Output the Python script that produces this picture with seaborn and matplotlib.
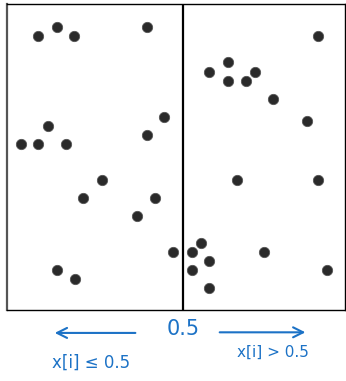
import matplotlib
matplotlib.use("Agg")
import matplotlib.pyplot as plt
import seaborn as sns
import pandas as pd

# point coordinates (x in [-0.02, 0.98], y in [0, 1])
x_vals = [0.072, 0.128, 0.178, 0.394, 0.101, 0.021, 0.072, 0.155, 0.394, 0.445,
          0.261, 0.205, 0.418, 0.365, 0.471, 0.128, 0.181,
          0.900, 0.578, 0.634, 0.634, 0.687, 0.714, 0.767, 0.868,
          0.660, 0.900, 0.554, 0.527, 0.578, 0.527, 0.578, 0.740, 0.927]
y_vals = [0.895, 0.925, 0.895, 0.925, 0.601, 0.542, 0.542, 0.542, 0.572, 0.631,
          0.425, 0.366, 0.366, 0.307, 0.190, 0.131, 0.101,
          0.895, 0.778, 0.810, 0.748, 0.748, 0.778, 0.690, 0.618,
          0.425, 0.425, 0.219, 0.190, 0.160, 0.131, 0.072, 0.190, 0.131]
split = 0.5
split_label = "0.5"
left_label = "x[i] ≤ 0.5"
right_label = "x[i] > 0.5"

df = pd.DataFrame({"x": x_vals, "y": y_vals})

sns.set_style("white")
fig = plt.figure(figsize=(3.46, 3.81), dpi=100)
ax = fig.add_axes([0.0202, 0.1864, 0.977, 0.8031])

sns.scatterplot(data=df, x="x", y="y", s=55, color="#2a2a2a",
                edgecolor="#555555", linewidth=0.6, ax=ax)
ax.axvline(split, color="black", lw=1.6)

ax.set_xlim(-0.02, 0.98)
ax.set_ylim(0, 1)
ax.set_xticks([])
ax.set_yticks([])
ax.set_xlabel("")
ax.set_ylabel("")
for side in ["top", "bottom", "right"]:
    ax.spines[side].set_color("black")
    ax.spines[side].set_linewidth(1.0)
ax.spines["left"].set_color("#555555")
ax.spines["left"].set_linewidth(1.6)

blue = "#1c72c6"
ax.annotate("", xy=(0.113, -0.075), xytext=(0.368, -0.075),
            xycoords="data", annotation_clip=False,
            arrowprops=dict(arrowstyle="->", color=blue, lw=1.5,
                            mutation_scale=18))
ax.annotate("", xy=(0.871, -0.073), xytext=(0.601, -0.073),
            xycoords="data", annotation_clip=False,
            arrowprops=dict(arrowstyle="->", color=blue, lw=1.5,
                            mutation_scale=18))
ax.text(split, -0.062, split_label, color=blue, fontsize=15,
        ha="center", va="center", clip_on=False)
ax.text(0.228, -0.172, left_label, color=blue, fontsize=12,
        ha="center", va="center", clip_on=False)
ax.text(0.767, -0.137, right_label, color=blue, fontsize=11,
        ha="center", va="center", clip_on=False)

fig.savefig("out.png", dpi=100)
